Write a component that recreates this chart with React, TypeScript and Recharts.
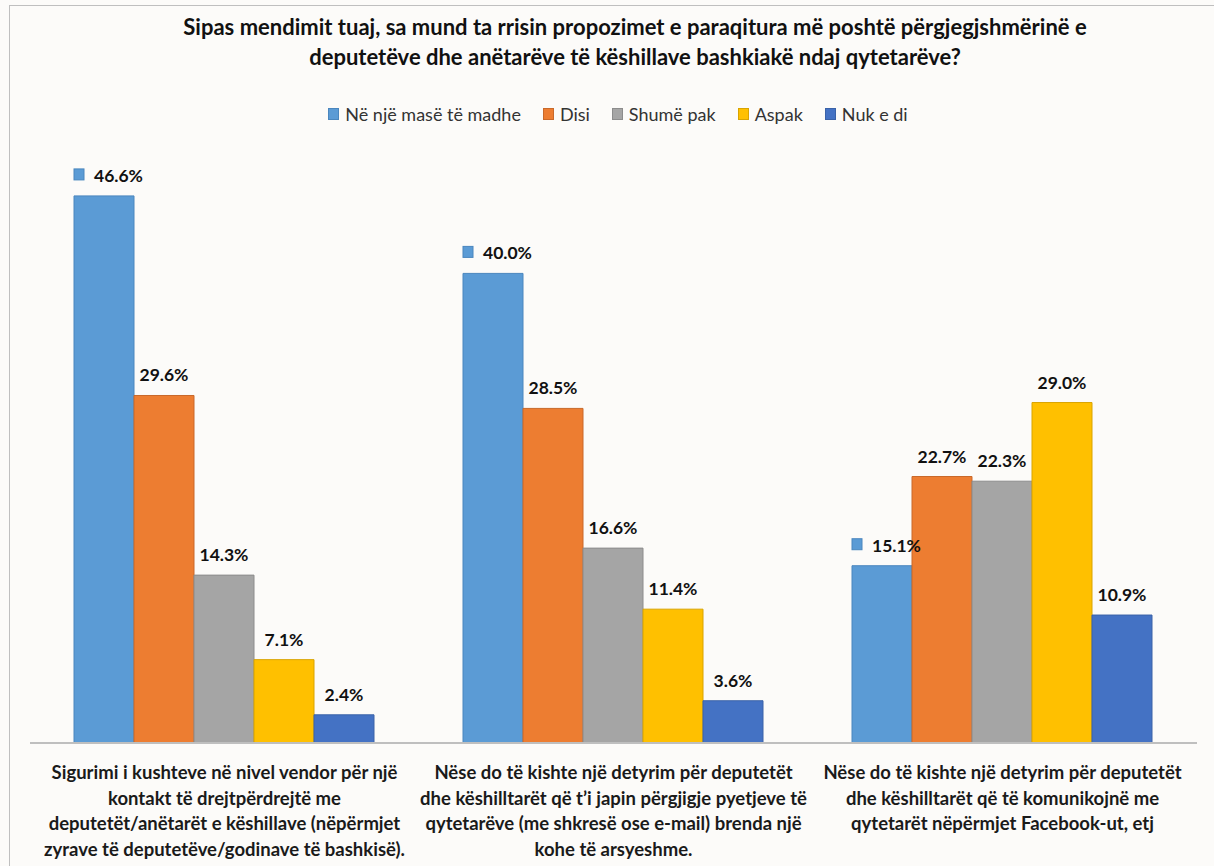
import { BarChart, Bar, XAxis, YAxis, Legend, LabelList } from "recharts";

const categoryLines = [
  [
    "Sigurimi i kushteve në nivel vendor për një",
    "kontakt të drejtpërdrejtë me",
    "deputetët/anëtarët e këshillave (nëpërmjet",
    "zyrave të deputetëve/godinave të bashkisë).",
  ],
  [
    "Nëse do të kishte  një detyrim për deputetët",
    "dhe këshilltarët që t’i japin përgjigje pyetjeve të",
    "qytetarëve (me shkresë ose e-mail) brenda një",
    "kohe të arsyeshme.",
  ],
  [
    "Nëse do të kishte një detyrim për deputetët",
    "dhe këshilltarët që të komunikojnë me",
    "qytetarët nëpërmjet Facebook-ut, etj",
  ],
];

const seriesNames = ["Në një masë të madhe", "Disi", "Shumë pak", "Aspak", "Nuk e di"];
const neNjeMase = [46.6, 40.0, 15.1];
const disi = [29.6, 28.5, 22.7];
const shumePak = [14.3, 16.6, 22.3];
const aspak = [7.1, 11.4, 29.0];
const nukEDi = [2.4, 3.6, 10.9];

const COLORS = ["#5B9BD5", "#ED7D31", "#A5A5A5", "#FFC000", "#4472C4"];
const BORDERS = ["#4A86BE", "#C9692A", "#8C8C8C", "#D9A400", "#3A62A8"];
const FONT = "Lato, 'Open Sans', sans-serif";
const BG = "#FCFBF9";

const seriesValues = [neNjeMase, disi, shumePak, aspak, nukEDi];
const keys = ["s0", "s1", "s2", "s3", "s4"];

const data = categoryLines.map((_, i) => {
  const row: Record<string, number | string> = { name: "c" + i };
  keys.forEach((k, j) => {
    row[k] = seriesValues[j][i];
  });
  return row;
});

function CategoryTick(props: any) {
  const { x, y, payload } = props;
  const lines = categoryLines[payload.index] || [];
  return (
    <text
      x={x}
      y={y}
      textAnchor="middle"
      fontFamily={FONT}
      fontWeight="bold"
      fontSize={18.5}
      fill="#1a1a1a"
    >
      {lines.map((l, i) => (
        <tspan key={i} x={x} y={y + 28 + i * 25.5}>
          {l}
        </tspan>
      ))}
    </text>
  );
}

function makeLabel(withKey: boolean, color: string, border: string) {
  return (props: any) => {
    const { x, y, width, value } = props;
    const text = Number(value).toFixed(1) + "%";
    const cx = x + width / 2;
    const ty = y - 14;
    if (!withKey) {
      return (
        <text
          x={cx}
          y={ty}
          textAnchor="middle"
          fontFamily={FONT}
          fontWeight="bold"
          fontSize={17.5}
          fill="#111"
        >
          {text}
        </text>
      );
    }
    return (
      <g>
        <rect x={x} y={y - 27} width={10} height={11} fill={color} stroke={border} />
        <text
          x={x + 20}
          y={ty}
          textAnchor="start"
          fontFamily={FONT}
          fontWeight="bold"
          fontSize={17.5}
          fill="#111"
        >
          {text}
        </text>
      </g>
    );
  };
}

function LegendContent() {
  return (
    <div
      style={{
        display: "flex",
        justifyContent: "center",
        gap: 22,
        fontFamily: FONT,
        fontSize: 18,
        color: "#333",
        paddingLeft: 22,
      }}
    >
      {seriesNames.map((n, i) => (
        <div key={n} style={{ display: "flex", alignItems: "center", gap: 6 }}>
          <span
            style={{
              display: "inline-block",
              width: 9,
              height: 10,
              background: COLORS[i],
              border: "1px solid " + BORDERS[i],
            }}
          />
          <span>{n}</span>
        </div>
      ))}
    </div>
  );
}

export default function App() {
  return (
    <div
      style={{
        position: "absolute",
        left: 0,
        top: 0,
        width: 1214,
        height: 866,
        background: BG,
        overflow: "hidden",
      }}
    >
      <div
        style={{
          position: "absolute",
          left: 9,
          top: 5,
          width: 1300,
          height: 1000,
          borderTop: "1px solid #BFBFBF",
          borderLeft: "1px solid #BFBFBF",
        }}
      />
      <div
        style={{
          position: "absolute",
          left: 40,
          top: 12,
          width: 1190,
          textAlign: "center",
          fontFamily: FONT,
          fontWeight: "bold",
          fontSize: 22,
          lineHeight: "30px",
          color: "#111",
        }}
      >
        Sipas mendimit tuaj, sa mund ta rrisin propozimet e paraqitura më poshtë përgjegjshmërinë e
        <br />
        deputetëve dhe anëtarëve të këshillave bashkiakë ndaj qytetarëve?
      </div>
      <div style={{ position: "absolute", left: 0, top: 0 }}>
        <BarChart
          width={1214}
          height={866}
          data={data}
          margin={{ top: 156, right: 17, bottom: 0, left: 30 }}
          barCategoryGap={44}
          barGap={0}
        >
          <YAxis hide domain={[0, 50]} />
          <XAxis
            dataKey="name"
            height={123}
            tickLine={false}
            axisLine={{ stroke: "#BFBFBF", strokeWidth: 2 }}
            tick={<CategoryTick />}
            interval={0}
          />
          <Legend
            layout="horizontal"
            verticalAlign="middle"
            align="center"
            content={<LegendContent />}
            wrapperStyle={{ top: 103, left: 0, width: 1214 }}
          />
          {keys.map((k, j) => (
            <Bar
              key={k}
              dataKey={k}
              name={seriesNames[j]}
              fill={COLORS[j]}
              stroke={BORDERS[j]}
              strokeWidth={1}
              isAnimationActive={false}
            >
              <LabelList dataKey={k} content={makeLabel(j === 0, COLORS[j], BORDERS[j])} />
            </Bar>
          ))}
        </BarChart>
      </div>
    </div>
  );
}
